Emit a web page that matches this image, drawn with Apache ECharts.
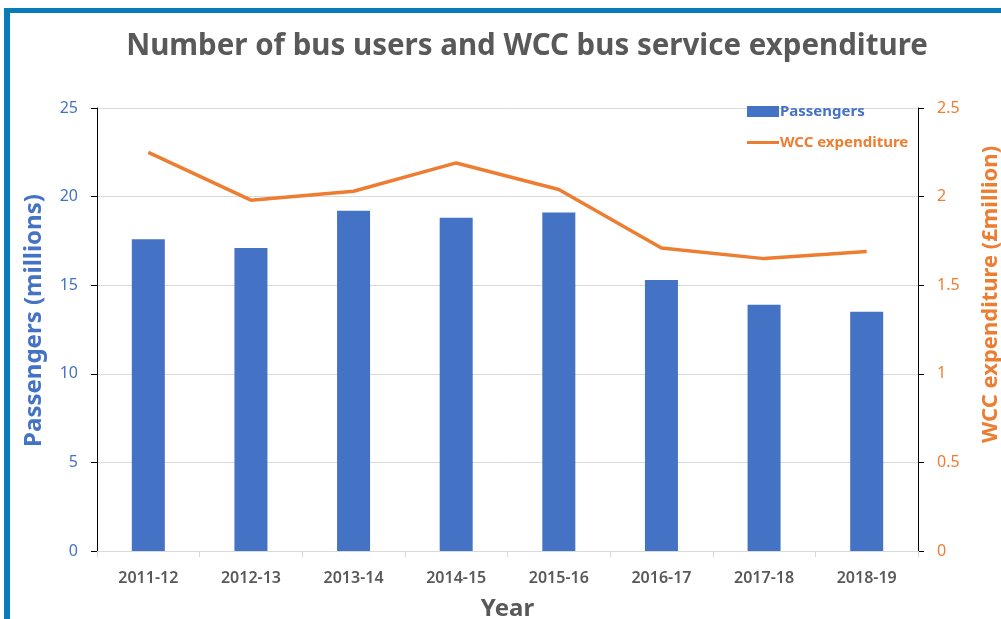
<!DOCTYPE html>
<html>
<head>
<meta charset="utf-8">
<script src="https://cdn.jsdelivr.net/npm/echarts@6/dist/echarts.min.js"></script>
<style>html,body{margin:0;padding:0;background:#fff;}#c{width:1001px;height:619px;}</style>
</head>
<body>
<div id="c"></div>
<script>
var years = ['2011-12','2012-13','2013-14','2014-15','2015-16','2016-17','2017-18','2018-19'];
var passengers = [17.6, 17.1, 19.2, 18.8, 19.1, 15.3, 13.9, 13.5];
var expenditure = [2.25, 1.98, 2.03, 2.19, 2.04, 1.71, 1.65, 1.69];
var leftTicks = [0, 5, 10, 15, 20, 25];
var rightTicks = [0, 0.5, 1, 1.5, 2, 2.5];

var chart = echarts.init(document.getElementById('c'));
var gray = '#595959', blue = '#4472c4', orange = '#ed7d31';
var font = 'Noto Sans';
chart.setOption({
  animation: false,
  backgroundColor: '#fff',
  title: {
    text: 'Number of bus users and WCC bus service expenditure',
    left: 522, top: 27, textAlign: 'center',
    textStyle: {fontFamily: font, fontWeight: 'bold', fontSize: 29.5, color: gray}
  },
  graphic: [
    {type: 'rect', shape: {x: 4, y: 8, width: 997, height: 5}, style: {fill: '#0a7bb9'}, z: 100},
    {type: 'rect', shape: {x: 4, y: 8, width: 6, height: 611}, style: {fill: '#0a7bb9'}, z: 100}
  ],
  legend: [
    {
      left: 742, top: 99, itemWidth: 32, itemHeight: 11, icon: 'rect', itemGap: 4,
      data: [{name: 'Passengers'}],
      textStyle: {color: blue, fontFamily: font, fontWeight: 'bold', fontSize: 15, padding: [0,0,0,-4]}
    },
    {
      left: 742, top: 130, itemWidth: 32, itemHeight: 3, icon: 'rect',
      data: [{name: 'WCC expenditure'}],
      textStyle: {color: orange, fontFamily: font, fontWeight: 'bold', fontSize: 15, padding: [0,0,0,-4]}
    }
  ],
  grid: {left: 97, right: 83, top: 108, bottom: 68, outerBoundsMode: 'none', containLabel: false},
  xAxis: {
    type: 'category', data: years,
    axisLine: {lineStyle: {color: '#d9d9d9', width: 1}},
    axisTick: {show: true, length: 6, lineStyle: {color: '#d9d9d9'}},
    axisLabel: {margin: 19, color: gray, fontFamily: font, fontWeight: 600, fontSize: 16},
    name: 'Year', nameLocation: 'middle', nameGap: 46,
    nameTextStyle: {color: gray, fontFamily: font, fontWeight: 'bold', fontSize: 24}
  },
  yAxis: [
    {
      type: 'value', min: 0, max: 25, interval: 5,
      axisLine: {show: true, lineStyle: {color: '#000', width: 1}},
      axisTick: {show: true, length: 6, lineStyle: {color: '#000'}},
      axisLabel: {margin: 19, color: blue, fontFamily: font, fontSize: 16,
        formatter: function (v) { return leftTicks.indexOf(v) >= 0 ? String(v) : ''; }},
      splitLine: {lineStyle: {color: '#d9d9d9', width: 1}},
      name: 'Passengers (millions)', nameLocation: 'middle', nameGap: 51, nameRotate: 90,
      nameTextStyle: {color: blue, fontFamily: font, fontWeight: 'bold', fontSize: 24, padding: [0, 0, 0, 18]}
    },
    {
      type: 'value', min: 0, max: 2.5, interval: 0.5, position: 'right',
      axisLine: {show: true, lineStyle: {color: '#000', width: 1}},
      axisTick: {show: true, length: 6, lineStyle: {color: '#000'}},
      axisLabel: {margin: 19, color: orange, fontFamily: font, fontSize: 16,
        formatter: function (v) { return rightTicks.indexOf(v) >= 0 ? String(v) : ''; }},
      splitLine: {show: false},
      name: 'WCC expenditure (£million)', nameLocation: 'middle', nameGap: 62, nameRotate: 90,
      nameTextStyle: {color: orange, fontFamily: font, fontWeight: 'bold', fontSize: 22, padding: [0, 0, 0, 70]}
    }
  ],
  series: [
    {name: 'Passengers', type: 'bar', data: passengers, barWidth: 33, itemStyle: {color: blue}, z: 2},
    {name: 'WCC expenditure', type: 'line', yAxisIndex: 1, data: expenditure, symbol: 'none',
      lineStyle: {color: orange, width: 3.5}, itemStyle: {color: orange}, z: 3}
  ]
});
</script>
</body>
</html>
